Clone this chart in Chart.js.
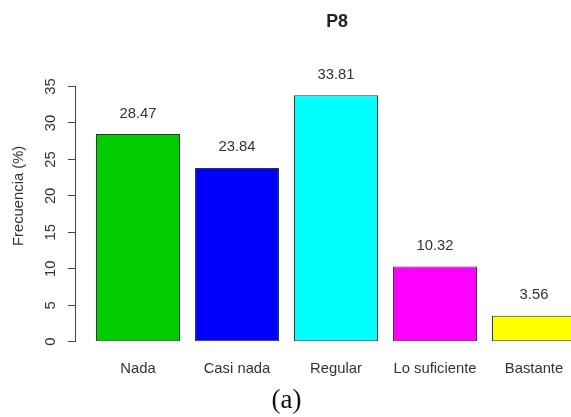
<!DOCTYPE html>
<html>
<head>
<meta charset="utf-8">
<script src="https://cdn.jsdelivr.net/npm/chart.js@4/dist/chart.umd.min.js"></script>
<style>
  html, body { margin: 0; padding: 0; background: #fff; overflow: hidden; width: 571px; height: 417px; }
  #wrap { position: relative; width: 598px; height: 417px; }
  #caption { position: absolute; left: 0; width: 573px; top: 386px; text-align: center;
             font-family: "Liberation Serif", "Times New Roman", serif; font-size: 27px; line-height: 27px; color: #111; }
</style>
</head>
<body>
<div id="wrap">
  <canvas id="p8Chart" width="598" height="417"></canvas>
</div>
<div id="caption">(a)</div>
<script>
// Datos del gráfico P8
const categorias = ["Nada", "Casi nada", "Regular", "Lo suficiente", "Bastante"];
const frecuencias = [28.47, 23.84, 33.81, 10.32, 3.56];
const yTicks = [0, 5, 10, 15, 20, 25, 30, 35];
const colores = ["#00CD00", "#0000FF", "#00FFFF", "#FF00FF", "#FFFF00"];

const fuente = "'Liberation Sans', Arial, sans-serif";

// Eje Y estilo R: línea solo entre el primer y el último tick
const ejeR = {
    id: "ejeR",
    afterDraw(chart) {
        const y = chart.scales.y;
        const x0 = chart.chartArea.left;
        const ctx = chart.ctx;
        ctx.save();
        ctx.strokeStyle = "#444";
        ctx.lineWidth = 1;
        ctx.beginPath();
        ctx.moveTo(x0 - 0.5, y.getPixelForValue(yTicks[0]));
        ctx.lineTo(x0 - 0.5, y.getPixelForValue(yTicks[yTicks.length - 1]));
        ctx.stroke();
        ctx.restore();
    }
};

// Etiquetas con el valor encima de cada barra
const valores = {
    id: "valores",
    afterDatasetsDraw(chart) {
        const ctx = chart.ctx;
        const meta = chart.getDatasetMeta(0);
        ctx.save();
        ctx.font = "14.8px " + fuente;
        ctx.fillStyle = "#333";
        ctx.textAlign = "center";
        ctx.textBaseline = "middle";
        meta.data.forEach((bar, i) => {
            ctx.fillText(frecuencias[i].toFixed(2), bar.x, bar.y - 20.5);
        });
        ctx.restore();
    }
};

new Chart(document.getElementById("p8Chart"), {
    type: "bar",
    data: {
        datasets: [{
            data: frecuencias.map((v, i) => ({ x: i, y: v })),
            backgroundColor: colores,
            borderColor: "#333",
            borderWidth: 1,
            borderSkipped: false,
            barPercentage: 0.848,
            categoryPercentage: 1
        }]
    },
    options: {
        responsive: false,
        animation: false,
        layout: { padding: 0 },
        plugins: {
            legend: { display: false },
            tooltip: { enabled: false },
            title: {
                display: true,
                text: "P8",
                fullSize: false,
                color: "#222",
                font: { family: fuente, size: 17.8, weight: "bold" },
                padding: { top: 11.3, bottom: 5.7 }
            }
        },
        scales: {
            x: {
                type: "linear",
                offset: false,
                min: -62 / 99,
                max: 460 / 99,
                afterBuildTicks: s => { s.ticks = categorias.map((c, i) => ({ value: i })); },
                afterFit: s => { s.height = 63.6; },
                grid: { display: false, drawTicks: false },
                border: { display: false },
                ticks: {
                    callback: v => categorias[Math.round(v)],
                    color: "#333",
                    font: { family: fuente, size: 14.8 },
                    padding: 7,
                    maxRotation: 0,
                    autoSkip: false
                }
            },
            y: {
                min: -1.6,
                max: 41.6,
                afterBuildTicks: s => { s.ticks = yTicks.map(v => ({ value: v })); },
                afterFit: s => { s.width = 76; },
                grid: { display: true, drawOnChartArea: false, drawTicks: true, tickLength: 8, color: "#444" },
                border: { display: false },
                ticks: {
                    color: "#333",
                    font: { family: fuente, size: 14.8 },
                    minRotation: 90,
                    maxRotation: 90,
                    crossAlign: "center",
                    padding: 8.8
                },
                title: {
                    display: true,
                    text: "Frecuencia (%)",
                    color: "#333",
                    font: { family: fuente, size: 14.8 },
                    padding: { top: 9.6, bottom: 0 }
                }
            }
        }
    },
    plugins: [ejeR, valores]
});
</script>
</body>
</html>
